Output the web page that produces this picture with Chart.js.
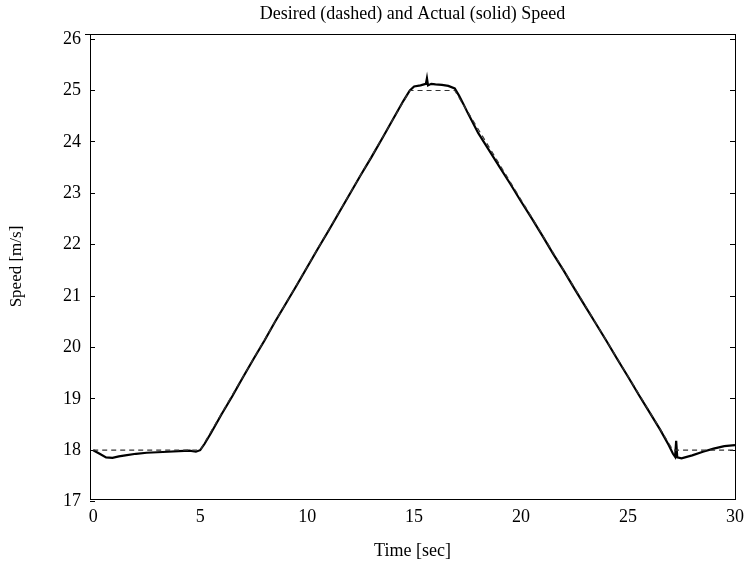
<!DOCTYPE html>
<html>
<head>
<meta charset="utf-8">
<script src="https://cdn.jsdelivr.net/npm/chart.js@4"></script>
<style>
  body { margin: 0; background: #fff; }
</style>
</head>
<body>
<canvas id="speed" width="754" height="571"></canvas>
<script>
// desired speed profile (dashed)
const desiredTime = [0, 5, 14.8, 16.9, 27.1, 30];
const desiredSpeed = [18, 18, 25, 25, 18, 18];

// measured speed (solid)
const actualTime = [0, 0.3, 0.6, 0.9, 1.2, 1.5, 2, 2.5, 3, 3.5, 4, 4.5, 4.8, 5, 5.2, 5.5, 6, 6.5, 7, 7.5,
  8, 8.5, 9, 9.5, 10, 10.5, 11, 11.5, 12, 12.5, 13, 13.5, 14, 14.5, 14.8, 15, 15.3, 15.55, 15.6, 15.65,
  15.8, 16, 16.3, 16.6, 16.9, 17.1, 17.3, 17.5, 18, 18.5, 19, 19.5, 20, 20.5, 21, 21.5, 22, 22.5, 23, 23.5,
  24, 24.5, 25, 25.5, 26, 26.5, 26.9, 27.1, 27.2, 27.25, 27.3, 27.5, 28, 28.5, 29, 29.5, 30];
const actualSpeed = [18.0, 17.93, 17.86, 17.85, 17.88, 17.9, 17.93, 17.95, 17.96, 17.97, 17.98, 17.99, 17.97, 18.0, 18.12, 18.33, 18.7, 19.05, 19.42, 19.78,
  20.13, 20.5, 20.85, 21.2, 21.56, 21.92, 22.27, 22.63, 22.99, 23.35, 23.7, 24.06, 24.43, 24.8, 25.0, 25.08, 25.1, 25.13, 25.24, 25.1,
  25.13, 25.12, 25.11, 25.09, 25.04, 24.9, 24.74, 24.57, 24.17, 23.84, 23.51, 23.18, 22.84, 22.51, 22.17, 21.82, 21.49, 21.14, 20.8, 20.46,
  20.12, 19.77, 19.43, 19.08, 18.74, 18.4, 18.1, 17.93, 17.87, 18.18, 17.86, 17.84, 17.9, 17.97, 18.03, 18.08, 18.1];

const xTicks = [0, 5, 10, 15, 20, 25, 30];
const yTicks = [17, 18, 19, 20, 21, 22, 23, 24, 25, 26];

const serif = 'Liberation Serif, Times New Roman, serif';

const toPoints = (xs, ys) => xs.map((x, i) => ({ x: x, y: ys[i] }));

// title over the plot box and the top edge of the box
const frame = {
  id: 'frame',
  afterDraw(chart) {
    const { ctx, chartArea } = chart;
    ctx.save();
    ctx.strokeStyle = '#000';
    ctx.lineWidth = 1;
    ctx.beginPath();
    ctx.moveTo(chartArea.left - 5, chartArea.top + 0.5);
    ctx.lineTo(chartArea.right, chartArea.top + 0.5);
    ctx.stroke();
    ctx.fillStyle = '#000';
    ctx.font = '18px ' + serif;
    ctx.textAlign = 'center';
    ctx.textBaseline = 'middle';
    ctx.fillText('Desired (dashed) and Actual (solid) Speed', (chartArea.left + chartArea.right) / 2, 14);
    ctx.restore();
  }
};

new Chart(document.getElementById('speed'), {
  type: 'line',
  data: {
    datasets: [
      {
        label: 'Desired',
        data: toPoints(desiredTime, desiredSpeed),
        borderColor: '#333',
        borderWidth: 1.2,
        borderDash: [5, 4],
        pointRadius: 0,
        tension: 0
      },
      {
        label: 'Actual',
        data: toPoints(actualTime, actualSpeed),
        borderColor: '#000',
        borderWidth: 2.2,
        pointRadius: 0,
        tension: 0
      }
    ]
  },
  options: {
    responsive: false,
    animation: false,
    layout: { padding: { top: 34, right: 19, left: 0, bottom: 0 } },
    plugins: {
      legend: { display: false },
      tooltip: { enabled: false }
    },
    scales: {
      x: {
        type: 'linear',
        min: -0.15,
        max: 30,
        afterBuildTicks: scale => { scale.ticks = xTicks.map(v => ({ value: v })); },
        afterFit: scale => { scale.height = 72; },
        grid: { drawOnChartArea: false, drawTicks: false },
        border: { color: '#000', width: 1 },
        ticks: { color: '#000', padding: 7, font: { family: serif, size: 18 } },
        title: {
          display: true,
          text: 'Time [sec]',
          color: '#000',
          font: { family: serif, size: 18 },
          padding: { top: 0, bottom: 9 }
        }
      },
      y: {
        min: 17.05,
        max: 26.1,
        afterBuildTicks: scale => { scale.ticks = yTicks.map(v => ({ value: v })); },
        afterFit: scale => { scale.width = 90; },
        grid: { drawOnChartArea: false, tickLength: -5, color: '#000' },
        border: { color: '#000', width: 1 },
        ticks: { color: '#000', padding: 14, font: { family: serif, size: 18 } },
        title: {
          display: true,
          text: 'Speed [m/s]',
          color: '#000',
          font: { family: serif, size: 17 },
          padding: { top: 6, bottom: 0 }
        }
      },
      y2: {
        position: 'right',
        min: 17.05,
        max: 26.1,
        afterBuildTicks: scale => { scale.ticks = yTicks.slice(1).map(v => ({ value: v })); },
        afterFit: scale => { scale.width = 0; },
        grid: { drawOnChartArea: false, tickLength: -5, color: '#000' },
        border: { color: '#000', width: 1 },
        ticks: { display: false }
      }
    }
  },
  plugins: [frame]
});
</script>
</body>
</html>
